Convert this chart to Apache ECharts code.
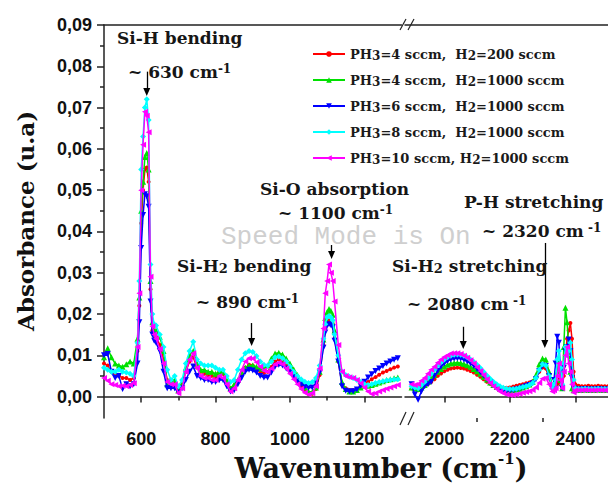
<!DOCTYPE html>
<html><head><meta charset="utf-8">
<script src="https://cdn.jsdelivr.net/npm/echarts@6/dist/echarts.min.js"></script>
<style>html,body{margin:0;padding:0;background:#fff}#c{width:608px;height:491px}</style>
</head><body><div id="c"></div>
<script>
// ---------- data ----------
const seriesNames = ['PH3=4 sccm,  H2=200 sccm','PH3=4 sccm,  H2=1000 sccm','PH3=6 sccm,  H2=1000 sccm','PH3=8 sccm,  H2=1000 sccm','PH3=10 sccm, H2=1000 sccm'];
const legendRich = ['PH{s|3}=4 sccm,  H{s|2}=200 sccm','PH{s|3}=4 sccm,  H{s|2}=1000 sccm','PH{s|3}=6 sccm,  H{s|2}=1000 sccm','PH{s|3}=8 sccm,  H{s|2}=1000 sccm','PH{s|3}=10 sccm, H{s|2}=1000 sccm'];
const colors = ['#ff0000','#00e000','#0000ff','#00ffff','#ff00ff'];

const wnLeft = [500,510,520,530,540,550,560,570,580,590,595,600,605,610,615,620,625,630,635,640,650,660,670,680,690,700,710,720,730,740,750,760,770,780,790,800,810,820,830,840,850,860,870,880,890,900,910,920,930,940,950,960,970,980,990,1000,1010,1020,1030,1040,1050,1060,1070,1080,1090,1095,1100,1105,1110,1115,1120,1130,1140,1150,1160,1170,1180,1190,1200,1210,1220,1230,1240,1250,1260,1270,1280,1290];

const redLeft = [0.0080,0.0075,0.0060,0.0055,0.0050,0.0045,0.0045,0.0040,0.0045,0.0110,
0.0220,0.0420,0.0500,0.0550,0.0555,0.0520,0.0260,0.0160,0.0150,0.0145,
0.0125,0.0090,0.0040,0.0040,0.0035,0.0015,0.0030,0.0060,0.0085,0.0095,
0.0070,0.0060,0.0055,0.0050,0.0050,0.0045,0.0060,0.0055,0.0035,0.0015,
0.0025,0.0035,0.0055,0.0070,0.0077,0.0075,0.0068,0.0060,0.0057,0.0060,
0.0072,0.0085,0.0090,0.0087,0.0078,0.0065,0.0050,0.0037,0.0025,0.0013,
0.0006,0.0007,0.0018,0.0052,
0.0125,0.0165,0.0182,0.0185,0.0182,0.0175,0.0140,
0.0085,0.0030,0.0020,0.0016,0.0016,0.0018,0.0025,0.0030,0.0035,0.0042,0.0047,0.0053,0.0058,0.0062,0.0066,0.0070,0.0073];
const greenLeft = [0.0095,0.0117,0.0095,0.0080,0.0075,0.0072,0.0078,0.0085,0.0080,0.0140,
0.0240,0.0450,0.0520,0.0580,0.0590,0.0550,0.0280,0.0180,0.0160,0.0160,
0.0145,0.0110,0.0030,0.0040,0.0040,0.0015,0.0030,0.0070,0.0100,0.0110,
0.0080,0.0065,0.0065,0.0060,0.0060,0.0055,0.0060,0.0060,0.0040,0.0020,
0.0030,0.0040,0.0060,0.0070,0.0075,0.0075,0.0072,0.0068,0.0068,0.0075,
0.0092,0.0104,0.0106,0.0102,0.0092,0.0080,0.0066,0.0052,0.0038,0.0022,
0.0012,0.0011,0.0022,0.0060,
0.0138,0.0190,0.0205,0.0212,0.0208,0.0198,0.0160,
0.0090,0.0035,0.0018,0.0012,0.0012,0.0016,0.0022,0.0026,0.0026,0.0028,0.0031,0.0034,0.0037,0.0040,0.0042,0.0044,0.0046];
const blueLeft = [0.0100,0.0103,0.0060,0.0045,0.0050,0.0018,0.0030,0.0025,0.0030,0.0080,
0.0180,0.0360,0.0440,0.0490,0.0485,0.0460,0.0230,0.0150,0.0135,0.0130,
0.0110,0.0060,0.0020,0.0020,0.0020,0.0010,0.0020,0.0040,0.0060,0.0073,
0.0050,0.0045,0.0040,0.0040,0.0035,0.0035,0.0040,0.0040,0.0025,0.0012,
0.0015,0.0030,0.0045,0.0060,0.0065,0.0063,0.0058,0.0050,0.0046,0.0046,
0.0058,0.0072,0.0077,0.0075,0.0068,0.0058,0.0047,0.0037,0.0030,0.0024,
0.0021,0.0022,0.0032,0.0058,
0.0118,0.0155,0.0172,0.0175,0.0173,0.0168,0.0135,
0.0085,0.0025,0.0014,0.0012,0.0013,0.0017,0.0026,0.0036,0.0046,0.0054,0.0062,0.0068,0.0074,0.0080,0.0085,0.0089,0.0093];
const cyanLeft = [0.0070,0.0065,0.0060,0.0060,0.0065,0.0060,0.0058,0.0055,0.0050,0.0130,
0.0280,0.0550,0.0630,0.0700,0.0720,0.0670,0.0320,0.0200,0.0175,0.0172,
0.0150,0.0120,0.0065,0.0040,0.0050,0.0025,0.0040,0.0080,0.0110,0.0133,
0.0090,0.0080,0.0075,0.0075,0.0075,0.0070,0.0065,0.0065,0.0050,0.0035,
0.0040,0.0065,0.0090,0.0105,0.0110,0.0108,0.0098,0.0085,0.0077,0.0075,
0.0085,0.0095,0.0097,0.0093,0.0085,0.0073,0.0060,0.0050,0.0042,0.0036,
0.0033,0.0035,0.0045,0.0075,
0.0140,0.0175,0.0192,0.0195,0.0192,0.0185,0.0150,
0.0100,0.0060,0.0052,0.0048,0.0045,0.0040,0.0035,0.0030,0.0028,0.0030,0.0033,0.0035,0.0037,0.0039,0.0040,0.0041,0.0042];
const magentaLeft = [0.0045,0.0038,0.0030,0.0028,0.0025,0.0026,0.0025,0.0028,0.0032,0.0120,
0.0250,0.0500,0.0610,0.0690,0.0680,0.0640,0.0290,0.0170,0.0150,0.0140,
0.0115,0.0080,0.0035,0.0030,0.0030,0.0008,0.0020,0.0060,0.0090,0.0105,
0.0070,0.0050,0.0045,0.0045,0.0040,0.0040,0.0050,0.0045,0.0030,0.0012,
0.0020,0.0040,0.0065,0.0085,0.0093,0.0092,0.0083,0.0072,0.0063,0.0060,
0.0068,0.0078,0.0082,0.0078,0.0068,0.0055,0.0042,0.0030,0.0018,0.0009,
0.0005,0.0008,0.0025,0.0068,
0.0165,0.0250,0.0280,0.0320,0.0300,0.0280,0.0230,
0.0125,0.0060,0.0050,0.0047,0.0045,0.0040,0.0032,0.0022,0.0012,0.0006,0.0008,0.0012,0.0016,0.0019,0.0022,0.0025,0.0028];

const wnRight = [1900,1910,1920,1930,1940,1950,1960,1970,1980,1990,2000,2010,2020,2030,2040,2050,2060,2070,2080,2090,2100,2110,2120,2130,2140,2150,2160,2170,2180,2190,2200,2210,2220,2230,2240,2250,2260,2270,2280,2290,2300,2310,2320,2330,2335,2340,2345,2350,2355,2360,2365,2370,2375,2380,2385,2390,2395,2400,2410,2420,2430,2440,2450,2460,2470,2480,2490,2500];

const redRight = [0.0020,0.0018,0.0015,0.0020,0.0025,0.0030,0.0035,0.0042,0.0050,0.0056,
0.0061,0.0065,0.0068,0.0069,0.0070,0.0069,0.0068,0.0065,0.0062,0.0058,
0.0053,0.0048,0.0042,0.0036,0.0031,0.0027,0.0024,0.0022,0.0021,0.0021,
0.0022,0.0024,0.0026,0.0028,0.0030,0.0032,0.0034,0.0037,0.0045,0.0060,
0.0070,0.0068,0.0045,0.0022,
0.0020,0.0020,0.0030,0.0050,0.0030,0.0020,0.0050,0.0100,0.0140,0.0160,0.0178,0.0140,0.0060,0.0030,
0.0026,0.0025,0.0025,0.0026,0.0025,0.0025,0.0026,0.0025,0.0025,0.0025];
const greenRight = [0.0022,0.0020,0.0018,0.0022,0.0028,0.0035,0.0045,0.0052,0.0060,0.0067,
0.0073,0.0077,0.0080,0.0081,0.0082,0.0081,0.0079,0.0076,0.0072,0.0067,
0.0061,0.0055,0.0048,0.0041,0.0034,0.0028,0.0023,0.0019,0.0016,0.0014,
0.0014,0.0015,0.0017,0.0019,0.0022,0.0025,0.0029,0.0036,0.0052,0.0078,
0.0092,0.0090,0.0060,0.0025,
0.0020,0.0030,0.0060,0.0090,0.0040,0.0020,0.0120,0.0215,0.0180,0.0120,0.0060,0.0020,0.0015,0.0018,
0.0016,0.0016,0.0017,0.0016,0.0016,0.0016,0.0017,0.0016,0.0016,0.0016];
const blueRight = [0.0030,0.0005,-0.0008,0.0012,0.0025,0.0030,0.0035,0.0050,0.0062,0.0072,
0.0080,0.0086,0.0090,0.0092,0.0093,0.0092,0.0089,0.0085,0.0080,0.0074,
0.0067,0.0059,0.0051,0.0043,0.0035,0.0028,0.0022,0.0018,0.0015,0.0014,
0.0014,0.0015,0.0017,0.0019,0.0022,0.0025,0.0028,0.0032,0.0042,0.0062,
0.0075,0.0074,0.0050,0.0018,
0.0040,0.0080,0.0145,0.0130,0.0060,0.0020,0.0070,0.0110,0.0120,0.0138,0.0110,0.0045,0.0020,0.0018,
0.0017,0.0017,0.0018,0.0017,0.0017,0.0017,0.0018,0.0017,0.0017,0.0017];
const cyanRight = [0.0025,0.0022,0.0020,0.0028,0.0035,0.0045,0.0055,0.0065,0.0075,0.0083,
0.0090,0.0095,0.0099,0.0101,0.0102,0.0101,0.0099,0.0095,0.0090,0.0084,
0.0077,0.0069,0.0060,0.0051,0.0043,0.0036,0.0030,0.0025,0.0021,0.0019,
0.0018,0.0018,0.0019,0.0021,0.0023,0.0025,0.0028,0.0033,0.0045,0.0065,
0.0078,0.0075,0.0050,0.0020,
0.0030,0.0040,0.0090,0.0110,0.0070,0.0030,0.0080,0.0120,0.0100,0.0110,0.0130,0.0090,0.0040,0.0020,
0.0018,0.0018,0.0019,0.0018,0.0018,0.0018,0.0019,0.0018,0.0018,0.0018];
const magentaRight = [0.0030,0.0028,0.0030,0.0038,0.0045,0.0055,0.0065,0.0072,0.0082,0.0090,
0.0096,0.0100,0.0104,0.0105,0.0105,0.0103,0.0099,0.0094,0.0088,0.0080,
0.0071,0.0062,0.0052,0.0042,0.0033,0.0025,0.0018,0.0012,0.0008,0.0005,
0.0004,0.0004,0.0005,0.0007,0.0009,0.0011,0.0013,0.0016,0.0022,0.0033,
0.0043,0.0045,0.0030,0.0012,
0.0015,0.0020,0.0050,0.0080,0.0040,0.0020,0.0060,0.0100,0.0120,0.0080,0.0060,0.0030,0.0010,0.0015,
0.0015,0.0015,0.0016,0.0015,0.0015,0.0015,0.0016,0.0015,0.0015,0.0015];

const yTickValues = [0,0.01,0.02,0.03,0.04,0.05,0.06,0.07,0.08,0.09];
const yMinorValues = [0.005,0.015,0.025,0.035,0.045,0.055,0.065,0.075,0.085];
const xLeftLabels = [600,800,1000,1200];
const xLeftMinor = [700,900,1100];
const xRightLabels = [2000,2200,2400];
const xRightMinor = [2100,2300];

// ---------- chart ----------
const SERIF = 'DejaVu Serif';
const SANS = 'Liberation Sans';
const leftSets = [redLeft, greenLeft, blueLeft, cyanLeft, magentaLeft];
const rightSets = [redRight, greenRight, blueRight, cyanRight, magentaRight];
const symbols = ['circle','triangle','triangle','diamond','triangle'];
const rotations = [0,0,180,0,90];
const symSizes = [4,6,6,6,6];

const zip = (xs, ys) => xs.map((x, i) => [x, ys[i]]);
const series = [];
for (let k = 0; k < 5; k++) {
  const base = {
    name: seriesNames[k], type: 'line', symbol: symbols[k], symbolRotate: rotations[k],
    symbolSize: symSizes[k], showAllSymbol: true,
    lineStyle: { color: colors[k], width: 1.5 },
    itemStyle: { color: colors[k] },
    emphasis: { disabled: true }, z: 2 + k
  };
  series.push(Object.assign({}, base, { xAxisIndex: 0, yAxisIndex: 0, data: zip(wnLeft, leftSets[k]) }));
  series.push(Object.assign({}, base, { xAxisIndex: 1, yAxisIndex: 2, data: zip(wnRight, rightSets[k]) }));
}
// arrows (in data coordinates)
const arrowStyle = { color: '#000', width: 1.3, type: 'solid' };
series.push({
  type: 'line', xAxisIndex: 0, yAxisIndex: 0, data: [], silent: true, z: 20,
  markLine: { silent: true, symbol: ['none','triangle'], symbolSize: [7, 8], label: { show: false }, lineStyle: arrowStyle,
    data: [
      [{ coord: [615, 0.0787] }, { coord: [615, 0.0738] }],
      [{ coord: [897, 0.0178] }, { coord: [897, 0.0132] }],
      [{ coord: [1112, 0.0367] }, { coord: [1112, 0.0343] }]
    ] }
});
series.push({
  type: 'line', xAxisIndex: 1, yAxisIndex: 2, data: [], silent: true, z: 20,
  markLine: { silent: true, symbol: ['none','triangle'], symbolSize: [7, 8], label: { show: false }, lineStyle: arrowStyle,
    data: [
      [{ coord: [2058, 0.0169] }, { coord: [2058, 0.0125] }],
      [{ coord: [2307, 0.0372] }, { coord: [2307, 0.0127] }]
    ] }
});

const axisLineStyle = { color: '#222', width: 1.5 };
const tickLabel = { fontFamily: SANS, fontWeight: 'bold', fontSize: 18, color: '#111' };
const ann = (text, x, y, extra) => ({
  type: 'text', x: x, y: y, z: 50,
  style: Object.assign({
    text: text, fill: '#161616', fontFamily: SERIF, fontWeight: 'bold', fontSize: 17, lineHeight: 18,
    textAlign: 'left', textVerticalAlign: 'middle',
    rich: {
      n: { fontFamily: SERIF, fontWeight: 'bold', fontSize: 17, lineHeight: 18 },
      sup: { fontFamily: SERIF, fontWeight: 'bold', fontSize: 12, lineHeight: 10, verticalAlign: 'top' },
      sub: { fontFamily: SERIF, fontWeight: 'bold', fontSize: 13, lineHeight: 10, verticalAlign: 'bottom' }
    }
  }, extra || {})
});

const option = {
  animation: false,
  backgroundColor: '#fff',
  grid: [
    { left: 104, top: 25, width: 297.5, height: 393 },
    { left: 405, top: 25, width: 203, height: 393 }
  ],
  xAxis: [
    { type: 'value', gridIndex: 0, min: 500, max: 1300, position: 'bottom',
      axisLine: { lineStyle: axisLineStyle }, splitLine: { show: false },
      axisTick: { customValues: xLeftLabels, length: 6, lineStyle: axisLineStyle },
      axisLabel: Object.assign({ customValues: xLeftLabels, margin: 12, formatter: v => String(v) }, tickLabel) },
    { type: 'value', gridIndex: 1, min: 1880, max: 2500, position: 'bottom',
      axisLine: { lineStyle: axisLineStyle }, splitLine: { show: false },
      axisTick: { customValues: xRightLabels, length: 6, lineStyle: axisLineStyle },
      axisLabel: Object.assign({ customValues: xRightLabels, margin: 12, formatter: v => String(v) }, tickLabel) },
    { type: 'value', gridIndex: 0, min: 500, max: 1300, position: 'bottom',
      axisLine: { show: false }, splitLine: { show: false }, axisLabel: { show: false },
      axisTick: { customValues: xLeftMinor, length: 4, lineStyle: axisLineStyle } },
    { type: 'value', gridIndex: 1, min: 1880, max: 2500, position: 'bottom',
      axisLine: { show: false }, splitLine: { show: false }, axisLabel: { show: false },
      axisTick: { customValues: xRightMinor, length: 4, lineStyle: axisLineStyle } },
    { type: 'value', gridIndex: 0, min: 500, max: 1300, position: 'top',
      axisLine: { lineStyle: axisLineStyle }, splitLine: { show: false }, axisLabel: { show: false }, axisTick: { show: false } },
    { type: 'value', gridIndex: 1, min: 1880, max: 2500, position: 'top',
      axisLine: { lineStyle: axisLineStyle }, splitLine: { show: false }, axisLabel: { show: false }, axisTick: { show: false } }
  ],
  yAxis: [
    { type: 'value', gridIndex: 0, min: -0.0052, max: 0.09, position: 'left',
      axisLine: { show: true, lineStyle: axisLineStyle }, splitLine: { show: false },
      axisTick: { show: true, customValues: yTickValues, length: 7, lineStyle: axisLineStyle },
      axisLabel: Object.assign({ customValues: yTickValues, margin: 12,
        formatter: v => v.toFixed(2).replace('.', ',') }, tickLabel) },
    { type: 'value', gridIndex: 0, min: -0.0052, max: 0.09, position: 'left',
      axisLine: { show: false }, splitLine: { show: false }, axisLabel: { show: false },
      axisTick: { show: true, customValues: yMinorValues, length: 4, lineStyle: axisLineStyle } },
    { type: 'value', gridIndex: 1, min: -0.0052, max: 0.09, show: false }
  ],
  legend: {
    orient: 'vertical', left: 307, top: 41, itemWidth: 32, itemHeight: 7, itemGap: 10,
    data: seriesNames,
    formatter: name => legendRich[seriesNames.indexOf(name)],
    textStyle: { fontFamily: SERIF, fontWeight: 'bold', fontSize: 13, color: '#1a1a1a', lineHeight: 16,
      rich: { s: { fontFamily: SERIF, fontWeight: 'bold', fontSize: 12, lineHeight: 11, verticalAlign: 'bottom' } } }
  },
  graphic: [
    ann('Si-H bending', 117, 38),
    ann('{n|~ 630 cm}{sup|-1}', 128, 72),
    ann('Si-O absorption', 260, 189),
    ann('{n|~ 1100 cm}{sup|-1}', 278, 213),
    ann('{n|Si-H}{sub|2}{n| bending}', 177, 266),
    ann('{n|~ 890 cm}{sup|-1}', 196, 302),
    ann('P-H stretching', 464, 202),
    ann('{n|~ 2320 cm}{sup| -1}', 482, 231),
    ann('{n|Si-H}{sub|2}{n| stretching}', 392, 266),
    ann('{n|~ 2080 cm}{sup| -1}', 407, 304),
    { type: 'text', x: 25, y: 221, rotation: Math.PI / 2, z: 50,
      style: { text: 'Absorbance (u.a)', fill: '#111', fontFamily: SERIF, fontWeight: 'bold', fontSize: 23,
        textAlign: 'center', textVerticalAlign: 'middle' } },
    { type: 'text', x: 381, y: 468, z: 50,
      style: { text: '{n|Wavenumber (cm}{sup|-1}{n|)}', fill: '#111', textAlign: 'center', textVerticalAlign: 'middle',
        rich: { n: { fontFamily: SERIF, fontWeight: 'bold', fontSize: 27, lineHeight: 34, fill: '#111' },
                sup: { fontFamily: SERIF, fontWeight: 'bold', fontSize: 15, lineHeight: 15, verticalAlign: 'top', fill: '#111' } } } },
    { type: 'text', x: 221, y: 237, z: 60,
      style: { text: 'Speed Mode is On', fill: '#cfcfcf', fontFamily: 'Liberation Mono', fontSize: 26, lineHeight: 24,
        textAlign: 'left', textVerticalAlign: 'middle' } },
    // axis break marks
    { type: 'line', z: 40, shape: { x1: 400, y1: 425, x2: 406, y2: 412 }, style: { stroke: '#222', lineWidth: 1.2 } },
    { type: 'line', z: 40, shape: { x1: 408, y1: 425, x2: 414, y2: 412 }, style: { stroke: '#222', lineWidth: 1.2 } },
    { type: 'line', z: 40, shape: { x1: 400, y1: 30, x2: 406, y2: 19 }, style: { stroke: '#222', lineWidth: 1.2 } },
    { type: 'line', z: 40, shape: { x1: 408, y1: 30, x2: 414, y2: 19 }, style: { stroke: '#222', lineWidth: 1.2 } }
  ],
  series: series
};
const chart = echarts.init(document.getElementById('c'), null, { renderer: 'svg' });
chart.setOption(option);
</script>
</body></html>
